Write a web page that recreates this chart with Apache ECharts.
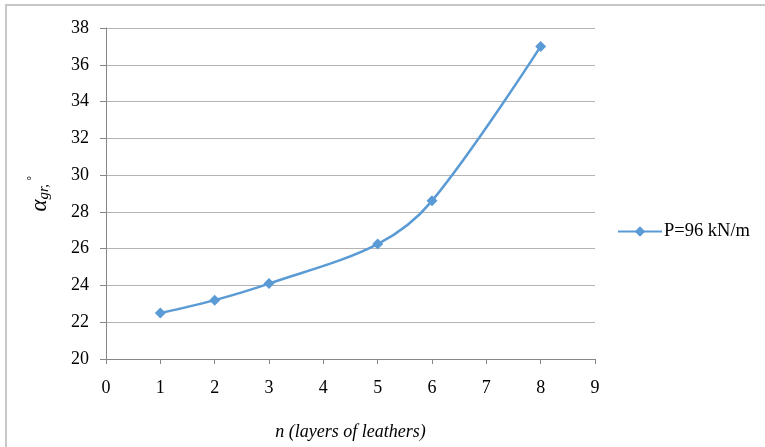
<!DOCTYPE html>
<html>
<head>
<meta charset="utf-8">
<script src="https://cdn.jsdelivr.net/npm/echarts@6/dist/echarts.min.js"></script>
<style>
  html, body { margin: 0; padding: 0; background: #fff; }
  #chart { width: 765px; height: 447px; }
</style>
</head>
<body>
<div id="chart"></div>
<script>
const LAYERS = [1, 2, 3, 5, 6, 8];
const ANGLE = [22.5, 23.2, 24.1, 26.25, 28.6, 37.0];
const SERIES_NAME = "P=96 kN/m";
const X_NAME = "n (layers of leathers)";

const FONT = "Liberation Serif";
const BORDER = "#c8c8c8";

const chart = echarts.init(document.getElementById("chart"));

chart.setOption({
  animation: false,
  textStyle: { fontFamily: FONT },
  grid: { left: 106, right: 170, top: 28, bottom: 88 },
  graphic: [
    { type: "line", shape: { x1: 6, y1: 5, x2: 6, y2: 447 }, style: { stroke: BORDER, lineWidth: 2 } },
    { type: "line", shape: { x1: 5, y1: 5, x2: 765, y2: 5 }, style: { stroke: BORDER, lineWidth: 2 } },
  ],
  legend: {
    left: 612,
    top: 217,
    itemWidth: 44,
    itemHeight: 13,
    itemGap: 4,
    textStyle: { fontFamily: FONT, fontSize: 18.5, color: "#000", padding: [0, 0, 0, -3] },
    data: [SERIES_NAME],
  },
  xAxis: {
    type: "value",
    min: 0,
    max: 9,
    interval: 1,
    name: X_NAME,
    nameLocation: "middle",
    nameGap: 64,
    nameTextStyle: { fontFamily: FONT, fontSize: 18, fontStyle: "italic", color: "#000" },
    axisLine: { lineStyle: { color: "#868686" } },
    axisTick: { show: true, length: 5, lineStyle: { color: "#868686" } },
    axisLabel: { fontFamily: FONT, fontSize: 18, color: "#000", margin: 20 },
    splitLine: { show: false },
  },
  yAxis: {
    type: "value",
    min: 20,
    max: 38,
    interval: 2,
    name: "{a|α}{s|gr,}{d|˚}",
    nameLocation: "middle",
    nameRotate: 90,
    nameGap: 54,
    nameTextStyle: {
      color: "#000",
      rich: {
        a: { fontFamily: FONT, fontSize: 23, fontStyle: "italic", color: "#000" },
        s: { fontFamily: FONT, fontSize: 15, fontStyle: "italic", color: "#000", verticalAlign: "bottom", padding: [10, 0, 0, 0] },
        d: { fontFamily: FONT, fontSize: 17, color: "#000", verticalAlign: "top", padding: [0, 0, 8, 3] },
      },
    },
    axisLine: { show: true, lineStyle: { color: "#868686" } },
    axisTick: { show: true, length: 6, lineStyle: { color: "#868686" } },
    axisLabel: { fontFamily: FONT, fontSize: 18, color: "#000", margin: 17 },
    splitLine: { show: true, lineStyle: { color: "#b4b4b4", width: 1 } },
  },
  series: [{
    name: SERIES_NAME,
    type: "line",
    smooth: 0.35,
    symbol: "diamond",
    symbolSize: 11,
    itemStyle: { color: "#5b9bd5" },
    lineStyle: { color: "#5b9bd5", width: 2.5 },
    data: LAYERS.map((n, i) => [n, ANGLE[i]]),
  }],
});
</script>
</body>
</html>
